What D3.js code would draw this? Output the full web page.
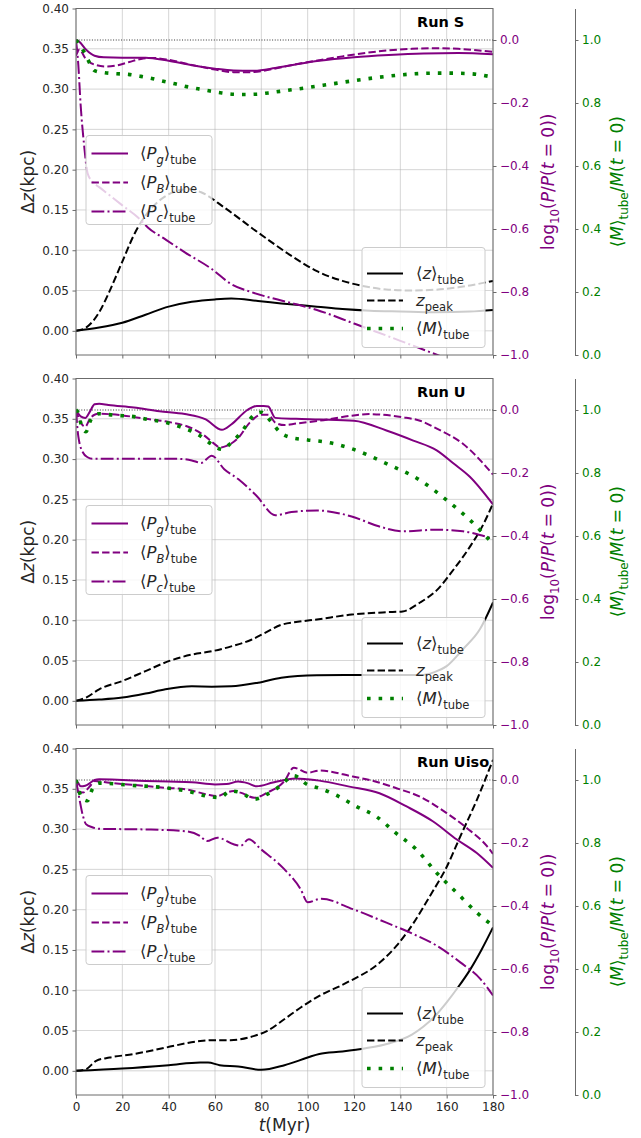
<!DOCTYPE html>
<html><head><meta charset="utf-8">
<script src="https://cdn.jsdelivr.net/npm/d3@7"></script>
<style>
body{margin:0;background:#fff}
svg{display:block}
text{font-family:"DejaVu Sans",sans-serif}
</style>
</head><body>
<svg id="c" width="641" height="1138"></svg>
<script>
// ---------- data ----------
const tTicks = [0,20,40,60,80,100,120,140,160,180];
const zTicks = [0,0.05,0.10,0.15,0.20,0.25,0.30,0.35,0.40];
const pTicks = [-1.0,-0.8,-0.6,-0.4,-0.2,0.0];
const mTicks = [0.0,0.2,0.4,0.6,0.8,1.0];
const runNames = ["Run S","Run U","Run Uiso"];

// Run S  (P: log10 P/P0 ; M: M/M0 ; z: kpc)
const S_Pg = [[0,0],[1.5,-0.006],[4.5,-0.032],[8,-0.05],[12,-0.055],[20,-0.056],[30,-0.056],[40,-0.066],[50,-0.08],[60,-0.091],[68,-0.097],[76,-0.098],[86,-0.089],[96,-0.076],[105,-0.066],[120,-0.055],[135,-0.048],[150,-0.043],[165,-0.041],[180,-0.045]];
const S_PB = [[0,-0.05],[1.5,-0.03],[4,-0.058],[8,-0.078],[13,-0.084],[18,-0.08],[23,-0.07],[28,-0.06],[33,-0.057],[40,-0.063],[50,-0.079],[60,-0.094],[68,-0.102],[76,-0.102],[85,-0.092],[95,-0.077],[105,-0.064],[115,-0.052],[125,-0.041],[135,-0.033],[145,-0.028],[155,-0.026],[165,-0.028],[175,-0.034],[180,-0.038]];
const S_Pc = [[0,0],[1,-0.079],[2,-0.206],[3.5,-0.334],[5,-0.423],[7,-0.449],[10,-0.467],[14,-0.49],[20,-0.525],[27,-0.565],[31,-0.595],[38.6,-0.633],[47,-0.674],[58.6,-0.727],[67,-0.775],[76,-0.801],[88.6,-0.827],[104,-0.857],[120,-0.9],[140,-0.955],[156,-1.0],[170,-1.04],[180,-1.07]];
const S_M  = [[0,1.0],[2,0.98],[4,0.955],[6,0.925],[8,0.903],[12.5,0.896],[17.6,0.893],[22.6,0.891],[27.6,0.885],[32.7,0.878],[37.7,0.869],[42.8,0.861],[47.8,0.852],[52.7,0.845],[57.9,0.838],[62.9,0.832],[68,0.828],[73,0.827],[78,0.828],[83,0.832],[88,0.837],[93,0.842],[100,0.849],[110,0.86],[120,0.871],[130,0.881],[140,0.889],[150,0.894],[160,0.895],[170,0.893],[180,0.882]];
const S_z  = [[0,0],[10,0.004],[20,0.010],[30,0.020],[40,0.030],[50,0.036],[60,0.039],[67,0.040],[78.6,0.037],[88.6,0.034],[104,0.030],[115,0.027],[127,0.025],[140,0.024],[155,0.023],[170,0.024],[180,0.026]];
const S_zp = [[0,0],[4.3,0.004],[10,0.023],[14.3,0.048],[20,0.086],[25.7,0.123],[30,0.143],[35.7,0.161],[42.9,0.173],[48.6,0.176],[54,0.172],[64,0.153],[78.6,0.122],[93,0.093],[104,0.074],[115,0.062],[125,0.055],[135,0.051],[145,0.050],[155,0.051],[165,0.054],[180,0.062]];

// Run U
const U_Pg = [[0,0],[2,-0.02],[4,-0.025],[6,-0.005],[8,0.018],[10,0.02],[14,0.016],[25,0.008],[36,-0.004],[47,-0.013],[56,-0.03],[63,-0.063],[67,-0.046],[74,0.0],[78,0.013],[81,0.013],[83,0.011],[86,-0.025],[95,-0.028],[105,-0.03],[120,-0.034],[134,-0.065],[145.6,-0.097],[155.7,-0.128],[163,-0.17],[170,-0.212],[180,-0.3]];
const U_PB = [[0,0],[2,-0.04],[4,-0.053],[6,-0.028],[8,-0.015],[10,-0.012],[20,-0.017],[30,-0.028],[40,-0.038],[50,-0.058],[55,-0.079],[60,-0.109],[62,-0.119],[65,-0.114],[70,-0.089],[75,-0.04],[80,-0.015],[83,-0.015],[86,-0.04],[90,-0.048],[95,-0.043],[105,-0.034],[119,-0.018],[126.5,-0.013],[141,-0.023],[148.5,-0.034],[156,-0.06],[167,-0.107],[180,-0.205]];
const U_Pc = [[0,0],[1,-0.084],[3,-0.135],[5,-0.15],[7,-0.155],[20,-0.155],[44,-0.155],[50,-0.16],[54,-0.168],[58.6,-0.145],[64,-0.188],[70,-0.219],[78,-0.273],[86,-0.334],[93,-0.324],[104,-0.319],[119,-0.338],[131,-0.37],[141,-0.385],[156,-0.38],[167,-0.385],[176,-0.4],[180,-0.408]];
const U_M  = [[0,1.0],[1,0.99],[2,0.96],[4.3,0.931],[6.5,0.97],[10,0.988],[17,0.983],[24,0.98],[31,0.97],[39,0.96],[46,0.944],[53,0.921],[58.6,0.891],[63,0.875],[67,0.896],[71,0.926],[77,0.985],[80,0.993],[84,0.965],[88,0.93],[93,0.912],[100,0.905],[108,0.898],[119,0.877],[134,0.83],[148.5,0.777],[160,0.714],[170,0.651],[180,0.575]];
const U_z  = [[0,0],[10,0.0015],[20,0.004],[30,0.009],[38.6,0.0143],[50,0.018],[58.6,0.0176],[67,0.018],[78.6,0.0225],[88.6,0.0287],[104,0.0316],[120,0.032],[148.5,0.032],[155,0.036],[160,0.043],[167,0.064],[174.4,0.089],[180,0.122]];
const U_zp = [[0,0],[4.3,0.004],[10,0.0143],[20,0.0246],[30,0.0369],[40,0.0492],[50,0.0574],[58.6,0.0615],[67,0.0676],[75.7,0.0758],[81.4,0.084],[88.6,0.0943],[95.7,0.098],[104,0.101],[119,0.107],[134,0.11],[141,0.111],[148.5,0.122],[156,0.138],[163,0.163],[170,0.191],[176,0.22],[180,0.245]];

// Run Uiso
const I_Pg = [[0,0],[1,-0.01],[2,-0.02],[4,-0.018],[6,-0.01],[8,0.0],[10,0.002],[20,0.0],[30,-0.003],[40,-0.005],[50,-0.007],[60,-0.014],[65,-0.013],[70,-0.005],[74,-0.01],[78,-0.02],[85,-0.008],[90,0.0],[95,0.005],[100,0.002],[105,-0.002],[118,-0.021],[131,-0.042],[142.7,-0.084],[154,-0.131],[164.4,-0.189],[173,-0.232],[180,-0.279]];
const I_PB = [[0,0],[1,-0.035],[3,-0.04],[6,-0.02],[8,-0.003],[14.5,-0.009],[24,-0.015],[39,-0.025],[47.8,-0.03],[56.5,-0.046],[61,-0.051],[65,-0.04],[68,-0.035],[71,-0.04],[77,-0.056],[82.6,-0.04],[90,-0.003],[94,0.039],[100,0.023],[105,0.03],[119.5,0.011],[126.7,0.0],[138.3,-0.026],[148.5,-0.053],[160,-0.105],[168.8,-0.153],[177.5,-0.211],[180,-0.235]];
const I_Pc = [[0,0],[1.5,-0.061],[3,-0.114],[4.3,-0.14],[7,-0.15],[10,-0.155],[30,-0.157],[47.8,-0.163],[53.6,-0.178],[56.5,-0.194],[61,-0.183],[68,-0.204],[71,-0.209],[74.6,-0.188],[79.7,-0.219],[89.9,-0.283],[97,-0.347],[100,-0.388],[105.8,-0.377],[119.5,-0.41],[134,-0.453],[145.6,-0.489],[155.7,-0.526],[165.9,-0.579],[174.6,-0.632],[180,-0.684]];
const I_M  = [[0,1.0],[1.5,0.96],[3,0.94],[5,0.934],[7,0.97],[10,0.99],[24,0.983],[39,0.975],[47.8,0.965],[56.5,0.949],[62,0.944],[66.7,0.965],[71,0.96],[77,0.939],[82.6,0.955],[88,0.98],[94,1.014],[100,0.985],[105,0.974],[112,0.953],[121,0.916],[129.6,0.884],[138,0.832],[147,0.779],[155.7,0.705],[164.4,0.642],[173,0.579],[180,0.537]];
const I_z  = [[0,0],[20,0.0029],[40,0.007],[53.6,0.0103],[57,0.0103],[62,0.007],[70,0.0054],[80,0.0012],[90,0.007],[100,0.0165],[105,0.021],[115,0.024],[125,0.028],[135,0.034],[145,0.045],[150,0.055],[155,0.068],[160,0.085],[165,0.104],[170,0.125],[175,0.15],[180,0.178]];
const I_zp = [[0,0],[4.3,0.002],[8.7,0.0124],[14.5,0.0165],[24.6,0.0207],[39,0.029],[53.6,0.037],[59.4,0.038],[66.7,0.038],[77,0.0434],[82.6,0.0496],[89.9,0.064],[97,0.0786],[105,0.093],[116.6,0.109],[131,0.134],[138.3,0.155],[145.6,0.183],[152.8,0.217],[160,0.253],[165.9,0.291],[173,0.336],[180,0.386]];

const panels = [
  {name:runNames[0], Pg:S_Pg, PB:S_PB, Pc:S_Pc, M:S_M, z:S_z, zp:S_zp},
  {name:runNames[1], Pg:U_Pg, PB:U_PB, Pc:U_Pc, M:U_M, z:U_z, zp:U_zp},
  {name:runNames[2], Pg:I_Pg, PB:I_PB, Pc:I_Pc, M:I_M, z:I_z, zp:I_zp}
];

// ---------- layout ----------
const X0 = 76, X1 = 493, PH = 346.5, tops = [8.5, 378.5, 748.5];
const GX = 575;
const PURPLE = "#800080", GREEN = "#008000", TXT = "#262626", SPINE = "#6b6b6b";
const svg = d3.select("#c");
const x = d3.scaleLinear([0,180],[X0,X1]);

function rich(sel, parts, fs){
  let cur = 0;
  parts.forEach(p=>{
    const target = p.sub ? fs*0.28 : 0;
    const ts = sel.append("tspan").text(p.t);
    if (p.i) ts.attr("font-style","italic");
    if (p.sub) ts.attr("font-size", fs*0.7);
    if (target !== cur) ts.attr("dy", target-cur);
    cur = target;
  });
}

const lab = {
  Pg:[{t:"⟨"},{t:"P",i:1},{t:"g",i:1,sub:1},{t:"⟩"},{t:"tube",sub:1}],
  PB:[{t:"⟨"},{t:"P",i:1},{t:"B",i:1,sub:1},{t:"⟩"},{t:"tube",sub:1}],
  Pc:[{t:"⟨"},{t:"P",i:1},{t:"c",i:1,sub:1},{t:"⟩"},{t:"tube",sub:1}],
  z:[{t:"⟨"},{t:"z",i:1},{t:"⟩"},{t:"tube",sub:1}],
  zp:[{t:"z",i:1},{t:"peak",sub:1}],
  M:[{t:"⟨"},{t:"M",i:1},{t:"⟩"},{t:"tube",sub:1}]
};
const sty = {
  Pg:{c:PURPLE,w:2,d:null},
  PB:{c:PURPLE,w:2,d:"7.4,3.2"},
  Pc:{c:PURPLE,w:2,d:"12.8,3.2,2,3.2"},
  z:{c:"#000",w:2,d:null},
  zp:{c:"#000",w:2,d:"7.4,3.2"},
  M:{c:GREEN,w:3.6,d:"3.6,8"}
};

panels.forEach((P,i)=>{
  const top = tops[i], bot = top+PH;
  const yL = d3.scaleLinear([-0.03,0.40],[bot,top]);
  const yR = d3.scaleLinear([-1.0,0.1],[bot,top]);
  const yG = d3.scaleLinear([0,1.1],[bot,top]);
  const g = svg.append("g");

  // grid
  g.append("g").selectAll("line").data(tTicks).join("line")
    .attr("x1",d=>x(d)).attr("x2",d=>x(d)).attr("y1",top).attr("y2",bot)
    .attr("stroke","#b0b0b0").attr("stroke-width",0.8).attr("opacity",0.65);
  g.append("g").selectAll("line").data(zTicks).join("line")
    .attr("x1",X0).attr("x2",X1).attr("y1",d=>yL(d)).attr("y2",d=>yL(d))
    .attr("stroke","#b0b0b0").attr("stroke-width",0.8).attr("opacity",0.65);

  // clip
  const cid = "clip"+i;
  svg.append("clipPath").attr("id",cid).append("rect")
    .attr("x",X0).attr("y",top).attr("width",X1-X0).attr("height",PH);
  const plot = g.append("g").attr("clip-path",`url(#${cid})`);

  const mk = ys => d3.line().x(d=>x(d[0])).y(d=>ys(d[1])).curve(d3.curveMonotoneX);
  const draw = (key, ys) => {
    const s = sty[key];
    plot.append("path").datum(P[key]).attr("d",mk(ys))
      .attr("fill","none").attr("stroke",s.c).attr("stroke-width",s.w)
      .attr("stroke-dasharray",s.d).attr("stroke-linejoin","round");
  };
  draw("z",yL); draw("zp",yL);
  // reference line log10 = 0
  plot.append("line").attr("x1",X0).attr("x2",X1).attr("y1",yR(0)).attr("y2",yR(0))
    .attr("stroke","#000").attr("stroke-width",0.8).attr("stroke-dasharray","1,1.65");
  draw("Pg",yR); draw("PB",yR); draw("Pc",yR);
  draw("M",yG);

  // frame
  g.append("rect").attr("x",X0).attr("y",top).attr("width",X1-X0).attr("height",PH)
    .attr("fill","none").attr("stroke",SPINE).attr("stroke-width",1);

  // axes
  const axL = g.append("g").attr("transform",`translate(${X0},0)`)
    .call(d3.axisLeft(yL).tickValues(zTicks).tickFormat(d3.format(".2f")).tickSize(3.5).tickPadding(3.5).tickSizeOuter(0));
  const axB = g.append("g").attr("transform",`translate(0,${bot})`)
    .call(d3.axisBottom(x).tickValues(tTicks).tickFormat(i===2?d3.format("d"):()=> "").tickSize(3.5).tickPadding(3.5).tickSizeOuter(0));
  const axR = g.append("g").attr("transform",`translate(${X1},0)`)
    .call(d3.axisRight(yR).tickValues(pTicks).tickFormat(d3.format(".1f")).tickSize(3.5).tickPadding(3.5).tickSizeOuter(0));
  const axG = g.append("g").attr("transform",`translate(${GX},0)`)
    .call(d3.axisRight(yG).tickValues(mTicks).tickFormat(d3.format(".1f")).tickSize(3.5).tickPadding(3.5).tickSizeOuter(0));
  [axL,axB,axR,axG].forEach(a=>{
    a.select(".domain").attr("stroke",SPINE);
    a.selectAll(".tick line").attr("stroke",SPINE);
    a.selectAll("text").attr("font-size",12).attr("font-family","DejaVu Sans").attr("fill",TXT);
  });
  axR.selectAll("text").attr("fill",PURPLE);
  axG.selectAll("text").attr("fill",GREEN);
  axL.select(".domain").remove(); axB.select(".domain").remove(); axR.select(".domain").remove();

  // title
  g.append("text").attr("x",417).attr("y",top+18).attr("font-size",14.5).attr("font-weight","bold")
    .attr("fill","#000").text(P.name);

  // axis labels
  const cy = top+PH/2;
  const yl = g.append("text").attr("transform",`translate(34,${cy}) rotate(-90)`)
    .attr("text-anchor","middle").attr("font-size",17).attr("fill",TXT);
  rich(yl,[{t:"Δ"},{t:"z",i:1},{t:"(kpc)"}],17);
  const rl = g.append("text").attr("transform",`translate(554,${cy}) rotate(-90)`)
    .attr("text-anchor","middle").attr("font-size",17).attr("fill",PURPLE);
  rich(rl,[{t:"log"},{t:"10",sub:1},{t:"("},{t:"P",i:1},{t:"/"},{t:"P",i:1},{t:"("},{t:"t",i:1},{t:" = 0))"}],17);
  const gl = g.append("text").attr("transform",`translate(623,${cy}) rotate(-90)`)
    .attr("text-anchor","middle").attr("font-size",17).attr("fill",GREEN);
  rich(gl,[{t:"⟨"},{t:"M",i:1},{t:"⟩"},{t:"tube",sub:1},{t:"/"},{t:"M",i:1},{t:"("},{t:"t",i:1},{t:" = 0)"}],17);

  // legends
  const legend = (bx,by,bw,bh,hx0,hx1,tx,rows,keys) => {
    const lg = g.append("g");
    lg.append("rect").attr("x",bx).attr("y",by).attr("width",bw).attr("height",bh).attr("rx",3)
      .attr("fill","#fff").attr("fill-opacity",0.8).attr("stroke","#cccccc");
    keys.forEach((k,j)=>{
      const s = sty[k], yy = by+rows[j];
      lg.append("line").attr("x1",hx0).attr("x2",hx1).attr("y1",yy).attr("y2",yy)
        .attr("stroke",s.c).attr("stroke-width",s.w).attr("stroke-dasharray",s.d);
      const t = lg.append("text").attr("x",tx).attr("y",yy+5.5).attr("font-size",16.5).attr("fill",TXT);
      rich(t,lab[k],16.5);
    });
  };
  legend(86,top+127,126,89,91.5,128,140,[18,47,76],["Pg","PB","Pc"]);
  legend(362,top+239,123,100,367,403,416,[26,53,81],["z","zp","M"]);
});

// x label
const xl = svg.append("text").attr("x",(X0+X1)/2).attr("y",1131).attr("text-anchor","middle")
  .attr("font-size",17).attr("fill",TXT);
rich(xl,[{t:"t",i:1},{t:"(Myr)"}],17);
</script>
</body></html>
